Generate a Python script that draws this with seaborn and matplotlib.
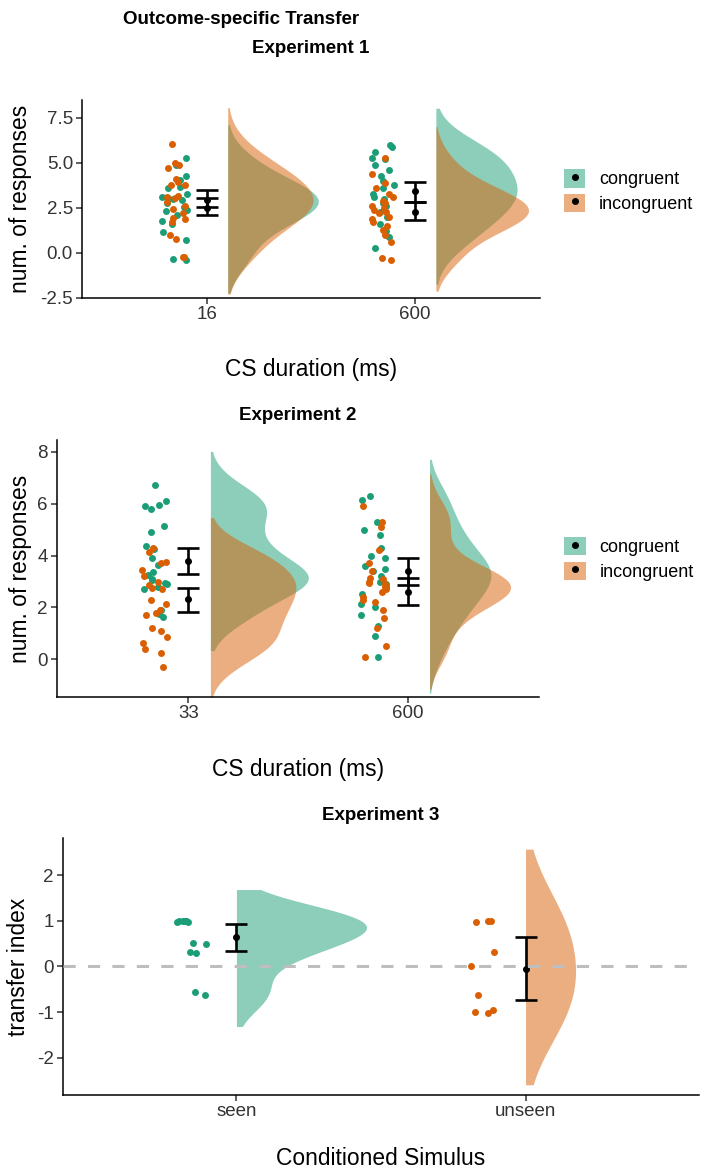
import numpy as np
import pandas as pd
import matplotlib
matplotlib.use("Agg")
import matplotlib.pyplot as plt
import seaborn as sns
from matplotlib.patches import Patch
from matplotlib.lines import Line2D

# ---- values ----
conditions = ["congruent", "incongruent"]
exp1_durations = ["16", "600"]
exp2_durations = ["33", "600"]
exp3_stimuli = ["seen", "unseen"]

# Experiment 1: number of responses per participant
exp1_16_congruent = [5.3, 4.9, 4.3, 4.05, 3.65, 3.6, 3.3, 3.1, 3.05, 3.0, 2.95,
                     2.75, 2.55, 2.4, 2.35, 2.1, 1.8, 1.6, 1.15, 0.7, -0.35, -0.4]
exp1_16_incongruent = [6.05, 5.0, 4.9, 4.7, 4.1, 3.95, 3.8, 3.75, 3.15, 3.1, 3.05,
                       2.85, 2.6, 2.45, 2.2, 1.95, 1.9, 1.7, 1.0, 0.8, -0.2, -0.25]
exp1_600_congruent = [6.0, 5.9, 5.6, 5.3, 5.2, 4.9, 4.6, 4.3, 4.0, 3.8, 3.6,
                      3.3, 3.1, 3.0, 2.8, 2.6, 2.3, 2.0, 1.6, 1.2, 0.9, 0.3]
exp1_600_incongruent = [5.3, 4.4, 3.9, 3.6, 3.3, 3.1, 2.9, 2.8, 2.6, 2.5, 2.4,
                        2.3, 2.2, 2.0, 1.9, 1.7, 1.5, 1.3, 1.0, 0.6, -0.3, -0.4]

# Experiment 2
exp2_33_congruent = [6.7, 6.1, 5.95, 5.9, 5.8, 5.15, 4.9, 4.35, 4.25, 3.9, 3.65,
                     3.35, 3.25, 3.1, 3.05, 2.95, 2.9, 2.8, 2.7, 1.9, 1.75, 1.65]
exp2_33_incongruent = [4.3, 4.15, 3.75, 3.7, 3.45, 3.2, 3.0, 2.85, 2.75, 2.7, 2.3,
                       2.15, 1.9, 1.8, 1.7, 1.2, 1.1, 0.85, 0.65, 0.4, 0.25, -0.3]
exp2_600_congruent = [6.3, 6.15, 5.3, 5.0, 4.8, 4.3, 4.0, 3.9, 3.6, 3.5, 3.4,
                      3.2, 3.0, 2.9, 2.8, 2.5, 2.15, 2.0, 1.7, 1.3, 0.9, 0.1]
exp2_600_incongruent = [5.9, 5.3, 5.1, 4.2, 3.7, 3.4, 3.15, 3.1, 3.0, 2.95, 2.9,
                        2.8, 2.7, 2.6, 2.4, 2.3, 2.2, 1.9, 1.6, 1.2, 0.5, 0.1]

# Experiment 3: transfer index
exp3_seen = [1.0, 1.0, 1.0, 1.0, 1.0, 0.98, 0.97, 0.52, 0.5, 0.32, 0.3, -0.55, -0.63]
exp3_unseen = [1.0, 1.0, 0.98, 0.32, 0.0, -0.63, -1.02, -1.0, -0.95]

# means with confidence bounds, one value per x category
exp1_mean_congruent = [2.5, 3.44]
exp1_lo_congruent = [2.11, 2.83]
exp1_hi_congruent = [3.06, 3.94]
exp1_mean_incongruent = [2.94, 2.28]
exp1_lo_incongruent = [2.56, 1.83]
exp1_hi_incongruent = [3.5, 2.83]

exp2_mean_congruent = [3.8, 3.41]
exp2_lo_congruent = [3.29, 2.87]
exp2_hi_congruent = [4.3, 3.91]
exp2_mean_incongruent = [2.33, 2.6]
exp2_lo_incongruent = [1.82, 2.09]
exp2_hi_incongruent = [2.75, 3.14]

exp3_mean = [0.64, -0.05]
exp3_lo = [0.33, -0.73]
exp3_hi = [0.92, 0.64]

# ---- style ----
sns.set_theme(style="ticks")
plt.rcParams["font.family"] = ["Liberation Sans", "DejaVu Sans"]
plt.rcParams["axes.unicode_minus"] = False
np.random.seed(4)

teal = "#1B9E77"
orange = "#D95F02"
cond_colors = {"congruent": teal, "incongruent": orange}
tick_color = "#333333"

fig = plt.figure(figsize=(7.1, 11.75), dpi=100)
ax1 = fig.add_axes([0.1155, 0.7464, 0.645, 0.1685])
ax2 = fig.add_axes([0.0803, 0.4068, 0.679, 0.2187])
ax3 = fig.add_axes([0.0887, 0.0681, 0.8958, 0.2187])


def half_violin(ax, pos, values, color, extent, bw_adjust, cut):
    # right-hand half of a violin, base at pos
    df = pd.DataFrame({"x": [pos] * len(values), "y": values, "side": "right"})
    sns.violinplot(data=df, x="x", y="y", hue="side", hue_order=["left", "right"],
                   palette={"left": color, "right": color}, split=True, dodge=True,
                   native_scale=True, orient="x", inner=None, width=2 * extent,
                   density_norm="width", bw_adjust=bw_adjust, cut=cut,
                   linewidth=0, saturation=1, alpha=0.5, legend=False, ax=ax)


def rain_points(ax, pos, values, color, jitter):
    sns.stripplot(x=np.full(len(values), pos), y=values, native_scale=True,
                  orient="x", jitter=jitter, color=color, size=5, linewidth=0,
                  ax=ax, zorder=3)


def mean_bars(ax, xs, mean, lo, hi):
    mean = np.asarray(mean)
    yerr = [mean - np.asarray(lo), np.asarray(hi) - mean]
    ax.errorbar(xs, mean, yerr=yerr, fmt="o", color="black", ms=4,
                elinewidth=1.9, capsize=8, capthick=1.9, zorder=5)


def style_axis(ax):
    sns.despine(ax=ax)
    for side in ["left", "bottom"]:
        ax.spines[side].set_linewidth(1.1)
        ax.spines[side].set_color("black")
    ax.tick_params(axis="both", labelsize=13.5, length=4, width=1.1,
                   color=tick_color, labelcolor=tick_color)
    ax.tick_params(axis="x", pad=2)
    ax.tick_params(axis="y", pad=2.5)


def legend_keys():
    handles = []
    for c in conditions:
        handles.append((Patch(facecolor=cond_colors[c], alpha=0.5, edgecolor="none"),
                        Line2D([], [], marker="o", color="black", linestyle="None", ms=4)))
    return handles


# ---- Experiments 1 and 2 ----
exp12 = [
    (ax1, exp1_durations,
     {"congruent": [exp1_16_congruent, exp1_600_congruent],
      "incongruent": [exp1_16_incongruent, exp1_600_incongruent]},
     {"congruent": (exp1_mean_congruent, exp1_lo_congruent, exp1_hi_congruent),
      "incongruent": (exp1_mean_incongruent, exp1_lo_incongruent, exp1_hi_incongruent)},
     {"congruent": [0.435, 0.39], "incongruent": [0.41, 0.445]}, 1.2, 1.9, 0.54),
    (ax2, exp2_durations,
     {"congruent": [exp2_33_congruent, exp2_600_congruent],
      "incongruent": [exp2_33_incongruent, exp2_600_incongruent]},
     {"congruent": (exp2_mean_congruent, exp2_lo_congruent, exp2_hi_congruent),
      "incongruent": (exp2_mean_incongruent, exp2_lo_incongruent, exp2_hi_incongruent)},
     {"congruent": [0.447, 0.28], "incongruent": [0.39, 0.37]}, 0.85, 1.9, 0.537),
]

for ax, durations, points, bars, extents, bw, cut, leg_y in exp12:
    for c in conditions:
        for i, vals in enumerate(points[c]):
            half_violin(ax, i + 0.1, vals, cond_colors[c], extents[c][i], bw, cut)
    for c in conditions:
        for i, vals in enumerate(points[c]):
            rain_points(ax, i - 0.155, vals, cond_colors[c], 0.06)
    for c in conditions:
        mean_bars(ax, [0, 1], *bars[c])
    ax.set_xticks([0, 1])
    ax.set_xticklabels(durations)
    ax.set_xlim(-0.6, 1.6)
    style_axis(ax)
    ax.set_xlabel("CS duration (ms)", fontsize=16.4, color="black")
    ax.set_ylabel("num. of responses", fontsize=16.4, color="black")
    ax.legend(legend_keys(), conditions, loc="center left", frameon=False,
              bbox_to_anchor=(1.052, leg_y), fontsize=13, handlelength=1.2,
              handleheight=1.2, labelspacing=0.3, handletextpad=0.75,
              borderaxespad=0, borderpad=0, labelcolor="black")

ax1.set_ylim(-2.5, 8.5)
ax1.set_yticks([-2.5, 0, 2.5, 5, 7.5])
ax1.set_yticklabels(["-2.5", "0.0", "2.5", "5.0", "7.5"])
ax1.xaxis.set_label_coords(0.5, -0.359)
ax1.yaxis.set_label_coords(-0.135, 0.5)
ax1.text(0.5, 1.26, "Experiment 1", transform=ax1.transAxes, ha="center",
         va="center", fontsize=13.5, fontweight="bold", color="black")

ax2.set_ylim(-1.45, 8.45)
ax2.set_yticks([0, 2, 4, 6, 8])
ax2.xaxis.set_label_coords(0.5, -0.284)
ax2.yaxis.set_label_coords(-0.075, 0.5)
ax2.text(0.5, 1.097, "Experiment 2", transform=ax2.transAxes, ha="center",
         va="center", fontsize=13.5, fontweight="bold", color="black")

# ---- Experiment 3 ----
half_violin(ax3, 0, exp3_seen, teal, 0.45, 1.15, 1.7)
half_violin(ax3, 1, exp3_unseen, orange, 0.173, 1.7, 1.6)
rain_points(ax3, -0.155, exp3_seen, teal, 0.055)
rain_points(ax3, 0.845, exp3_unseen, orange, 0.055)
mean_bars(ax3, [0, 1], exp3_mean, exp3_lo, exp3_hi)
ax3.axhline(0, color="#BEBEBE", linewidth=2.2, linestyle=(0, (4, 4)), zorder=10)
ax3.set_xticks([0, 1])
ax3.set_xticklabels(exp3_stimuli)
ax3.set_xlim(-0.6, 1.6)
ax3.set_ylim(-2.81, 2.81)
ax3.set_yticks([-2, -1, 0, 1, 2])
style_axis(ax3)
ax3.set_xlabel("Conditioned Simulus", fontsize=16.4, color="black")
ax3.set_ylabel("transfer index", fontsize=16.4, color="black")
ax3.xaxis.set_label_coords(0.5, -0.249)
ax3.yaxis.set_label_coords(-0.07, 0.5)
ax3.text(0.5, 1.089, "Experiment 3", transform=ax3.transAxes, ha="center",
         va="center", fontsize=13.5, fontweight="bold", color="black")

for ax in [ax1, ax2, ax3]:
    ax.xaxis.label.set_va("center")
    ax.yaxis.label.set_va("center")

fig.text(241 / 710, 1 - 20 / 1175, "Outcome-specific Transfer", ha="center",
         va="center", fontsize=13.5, fontweight="bold", color="black")

fig.savefig("out.png", dpi=100)
